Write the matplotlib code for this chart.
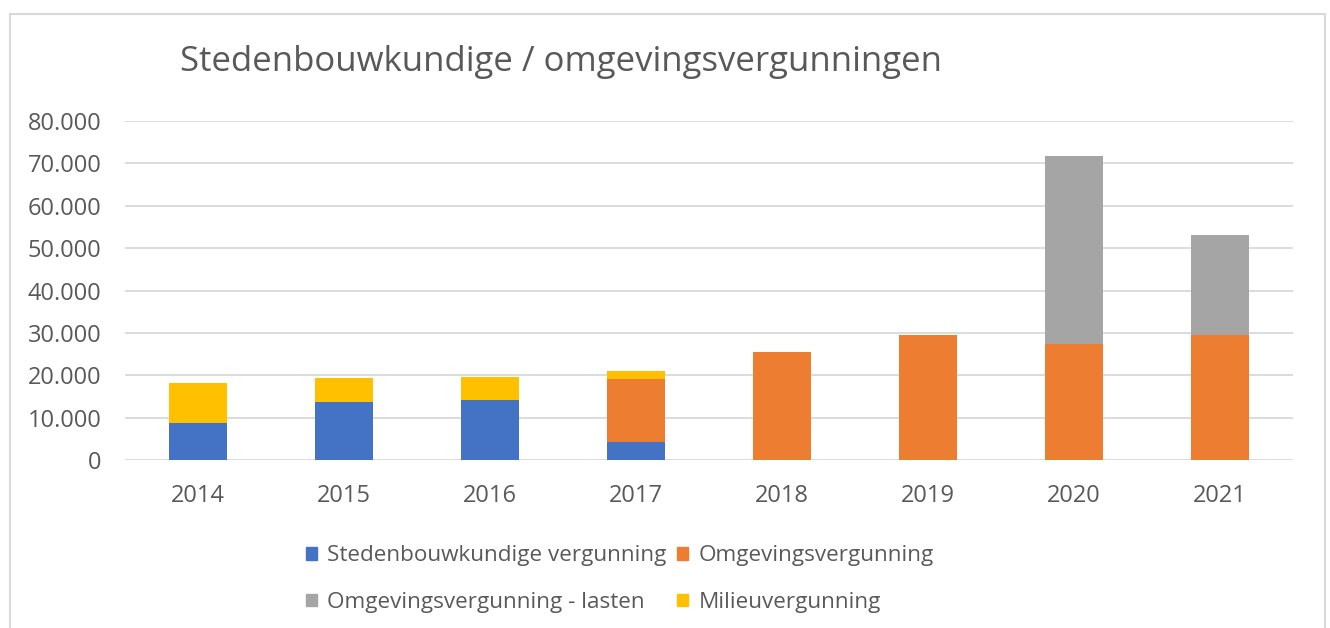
import matplotlib
matplotlib.use("Agg")
import matplotlib.pyplot as plt
from matplotlib.patches import Rectangle, Patch
from matplotlib.ticker import FuncFormatter

plt.rcParams['font.family'] = ['Open Sans', 'DejaVu Sans']

years = ['2014', '2015', '2016', '2017', '2018', '2019', '2020', '2021']
stedenbouw = [8700, 13600, 14200, 4200, 0, 0, 0, 0]
omgeving = [0, 0, 0, 14900, 25500, 29500, 27300, 29500]
omgeving_lasten = [0, 0, 0, 0, 0, 0, 44400, 23700]
milieu = [9400, 5800, 5500, 1900, 0, 0, 0, 0]

series = [
    ('Stedenbouwkundige vergunning', stedenbouw, '#4472C4'),
    ('Omgevingsvergunning', omgeving, '#ED7D31'),
    ('Omgevingsvergunning - lasten', omgeving_lasten, '#A5A5A5'),
    ('Milieuvergunning', milieu, '#FFC000'),
]

text_col = '#595959'
fig = plt.figure(figsize=(13.3, 6.28), dpi=100)
# chart frame (bottom edge falls outside the crop)
fig.patches.append(Rectangle((0.0075, -0.05), 0.9887, 1.0277, transform=fig.transFigure,
                             fill=False, edgecolor='#D9D9D9', lw=1.5))
ax = fig.add_axes([0.094, 0.2675, 0.8782, 0.5398])

x = list(range(len(years)))
bottom = [0] * len(years)
for name, vals, col in series:
    ax.bar(x, vals, width=0.4, bottom=bottom, color=col, label=name, zorder=3)
    bottom = [b + v for b, v in zip(bottom, vals)]

ax.set_xlim(-0.5, len(years) - 0.5)
ax.set_ylim(0, 80000)
ax.set_yticks(range(0, 80001, 10000))
ax.yaxis.set_major_formatter(FuncFormatter(lambda v, p: f"{int(v):,}".replace(',', '.')))
ax.set_xticks(x)
ax.set_xticklabels(years)
ax.grid(axis='y', color='#D9D9D9', lw=1.3, zorder=0)
for s in ax.spines.values():
    s.set_visible(False)
ax.tick_params(axis='both', length=0, colors=text_col, labelsize=17)
ax.tick_params(axis='x', pad=17)
ax.tick_params(axis='y', pad=17)

fig.text(0.1353, 0.901, 'Stedenbouwkundige / omgevingsvergunningen', fontsize=25,
         color=text_col, va='center', ha='left')

handles = [Patch(color=c) for _, _, c in series]
labels = [n for n, _, _ in series]
order = [0, 2, 1, 3]
leg = fig.legend([handles[i] for i in order], [labels[i] for i in order], ncol=2,
                 loc='center', bbox_to_anchor=(0.466, 0.078), frameon=False,
                 fontsize=16.2, labelcolor=text_col, handlelength=0.5, handleheight=0.5,
                 handletextpad=0.45, columnspacing=0.45, labelspacing=1.15)

fig.savefig('out.png', dpi=100)
